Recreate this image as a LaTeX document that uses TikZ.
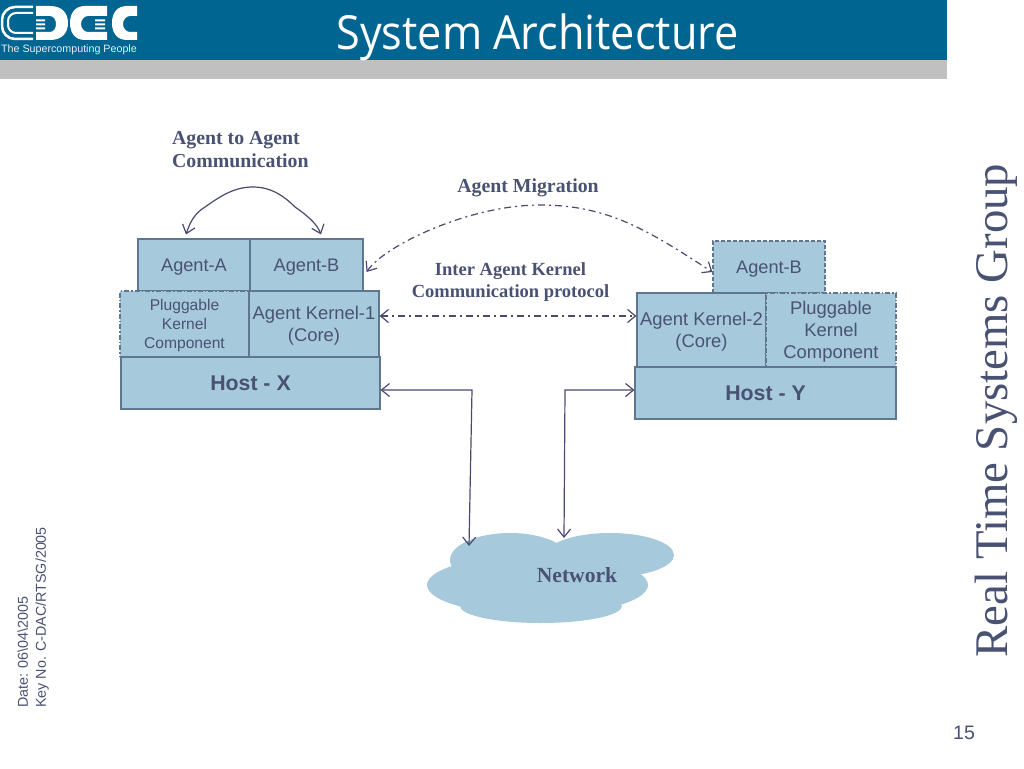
\documentclass[tikz,border=0pt]{standalone}
\usepackage{fontspec}
\setmainfont{Liberation Sans}
\newfontfamily\serifface{Liberation Serif}
\newfontfamily\titleface[FakeStretch=0.92]{Open Sans}
\usetikzlibrary{arrows.meta}
\definecolor{headblue}{HTML}{006591}
\definecolor{bandgray}{HTML}{C0C0C0}
\definecolor{boxfill}{HTML}{A6CADB}
\definecolor{boxline}{HTML}{5F7590}
\definecolor{inktext}{HTML}{4A5274}
\definecolor{linkink}{HTML}{4A4A70}
\newcommand{\fs}[2]{\fontsize{#1}{#2}\selectfont}
\tikzset{
  x=1pt,y=-1pt,
  box/.style={draw=boxline,fill=boxfill,line width=1.1pt,text=inktext,inner sep=0pt,align=center,text depth=-2.3pt},
  dashbox/.style={box,dash pattern=on 4pt off 2pt},
  dotbox/.style={box,dash pattern=on 5pt off 2pt on 1.5pt off 2pt},
  toplabel/.style={text=inktext,font=\serifface\bfseries\fs{19.8}{23.5},inner sep=0pt,align=center},
  solidlink/.style={draw=linkink,line width=1.2pt,{Straight Barb[length=8pt,width=13pt]}-{Straight Barb[length=8pt,width=13pt]}},
  dashlink/.style={solidlink,dash pattern=on 7pt off 4pt on 2pt off 4pt},
  plainlabel/.style={inner sep=0pt,text=inktext}
}
\begin{document}
\begin{tikzpicture}
\useasboundingbox (0,0) rectangle (1024,768);
\fill[white] (0,0) rectangle (1024,768);
% header
\fill[headblue] (0,0) rectangle (947,60);
\fill[bandgray] (0,60) rectangle (947,79);
% logo
\draw[white,line width=2.5pt,rounded corners=13pt] (33,7)--(2,7)--(2,39)--(33,39);
\draw[white,line width=2pt,rounded corners=8pt] (33,13)--(8,13)--(8,33)--(33,33);
\fill[white] (36,6) -- (50,6) .. controls (62,6) and (68,13) .. (68,23) .. controls (68,33) and (62,40) .. (50,40) -- (36,40) -- (36,32) -- (50,32) .. controls (54,32) and (56,28) .. (56,24) .. controls (56,20) and (54,16) .. (50,16) -- (36,16) -- cycle;
\fill[white] (36,19.5) rectangle (45,21.5) (36,23.5) rectangle (45,25.5) (36,27.5) rectangle (45,29.5);
\fill[white] (107,6) -- (85,6) .. controls (75,6) and (70,13) .. (70,23) .. controls (70,33) and (75,40) .. (85,40) -- (107,40) -- (107,32) -- (88,32) .. controls (84,32) and (81,28) .. (81,24) .. controls (81,20) and (84,16) .. (88,16) -- (107,16) -- cycle;
\fill[white] (95,19.5) rectangle (105,21.5) (95,23.5) rectangle (105,25.5) (95,27.5) rectangle (105,29.5);
\fill[white] (137,6) -- (127,6) .. controls (117,6) and (112,13) .. (112,23) .. controls (112,33) and (117,40) .. (127,40) -- (137,40) -- (137,32) -- (130,32) .. controls (126,32) and (123,28) .. (123,24) .. controls (123,20) and (126,16) .. (130,16) -- (137,16) -- cycle;
\node[inner sep=0pt,text=white!90!headblue,font=\fs{10.7}{12},anchor=west] (logotext) at (1,50) {The Supercomputing People};
\node[inner sep=0pt,text=white,font=\titleface\fs{47}{54}] (title) at (537.5,37) {System Architecture};
% side texts
\node[inner sep=0pt,text=inktext,font=\serifface\fs{46.8}{52},rotate=90] (rtsg) at (996,410.5) {Real Time Systems Group};
\node[plainlabel,font=\fs{14.3}{18},rotate=90,align=left,anchor=south west] (datekey) at (49,708) {Date: 06\textbackslash 04\textbackslash 2005\\Key No. C-DAC/RTSG/2005};
\node[plainlabel,font=\fs{19.5}{22}] (pagenum) at (964,733) {15};
% left stack
\node[box,minimum width=112pt,minimum height=52pt,font=\fs{18.2}{22}] (agentA) at (194,265) {Agent-A};
\node[box,minimum width=113pt,minimum height=52pt,font=\fs{18.2}{22}] (agentB) at (306.5,265) {Agent-B};
\node[dotbox,minimum width=129pt,minimum height=66pt,font=\fs{15.6}{19},text depth=-4pt] (plugL) at (184.5,324) {Pluggable\\Kernel\\Component};
\node[box,minimum width=130pt,minimum height=66pt,font=\fs{18.4}{22}] (kernelA) at (314,324) {Agent Kernel-1\\(Core)};
\node[box,minimum width=259pt,minimum height=52pt,font=\bfseries\fs{21.3}{24},text depth=-4pt] (hostX) at (250.5,383) {Host - X};
% right stack
\node[dashbox,minimum width=112pt,minimum height=52pt,font=\fs{18.2}{22}] (agentBr) at (769,267) {Agent-B};
\node[box,minimum width=129pt,minimum height=74pt,font=\fs{18.4}{22},text depth=-3.5pt] (kernelB) at (701.5,330) {Agent Kernel-2\\(Core)};
\node[dotbox,minimum width=130pt,minimum height=74pt,font=\fs{18.4}{22},text depth=-3.5pt] (plugR) at (831,330) {Pluggable\\Kernel\\Component};
\node[box,minimum width=261pt,minimum height=52pt,font=\bfseries\fs{21.3}{24},text depth=-4pt] (hostY) at (765.5,393) {Host - Y};
% cloud
\fill[boxfill] (537.5,585) ellipse [x radius=110.5pt,y radius=30pt];
\fill[boxfill] (510,560) ellipse [x radius=60pt,y radius=27pt];
\fill[boxfill] (610,555) ellipse [x radius=64pt,y radius=22pt];
\fill[boxfill] (541,606) ellipse [x radius=81pt,y radius=17pt];
\node[plainlabel,font=\serifface\bfseries\fs{21.6}{24}] (net) at (577,575) {Network};
% labels
\node[toplabel,align=left,anchor=north west] (lblA) at (172,131) {Agent to Agent\\Communication};
\node[toplabel] (lblM) at (528,187.5) {Agent Migration};
\node[toplabel,font=\serifface\bfseries\fs{18.5}{22}] (lblK) at (510.5,282.5) {Inter Agent Kernel\\Communication protocol};
% connectors
\coordinate (netL) at (469,546);
\coordinate (netR) at (564,538);
\draw[solidlink] ([shift={(-8pt,4pt)}]agentA.north) .. controls (190,222) and (195,213) .. (205,207) .. controls (222,195) and (235,187) .. (253,187) .. controls (272,187) and (285,197) .. (295,207) .. controls (308,216) and (317,224) .. ([shift={(14.5pt,4pt)}]agentB.north);
\draw[dashlink] ([shift={(3pt,-7pt)}]agentB.east) .. controls (385,245) and (470,205) .. (540,205) .. controls (610,205) and (650,232) .. ([yshift=-5pt]agentBr.west);
\draw[dashlink] ([yshift=8pt]kernelA.east) -- ([yshift=14pt]kernelB.west);
\draw[solidlink] ([yshift=-7pt]hostX.east) -- (472,390) -- (netL);
\draw[solidlink] ([yshift=3pt]hostY.west) -- (565,390) -- (netR);
\end{tikzpicture}
\end{document}
